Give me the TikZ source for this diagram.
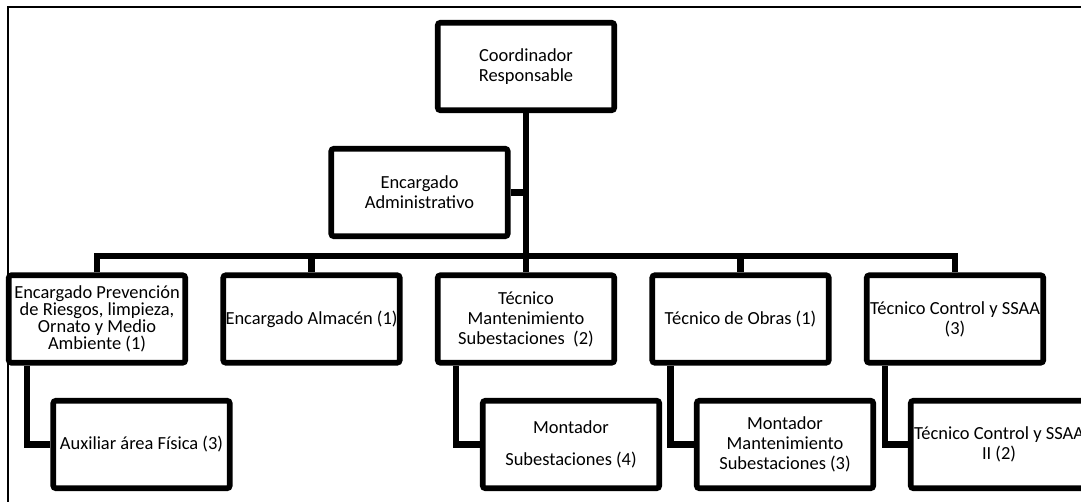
\documentclass[tikz,border=0pt]{standalone}
\usepackage{fontspec}
\setmainfont{Carlito}
\usetikzlibrary{positioning}

\begin{document}
\begin{tikzpicture}[x=0.02cm, y=-0.02cm,
  box/.style={draw=black,line width=0.114cm,rounded corners=1.5pt,fill=white,minimum width=3.53cm,minimum height=1.75cm,inner sep=0pt,align=center,font=\fontsize{10.5}{11.4}\selectfont},
  link/.style={line width=0.13cm,black}
]
\useasboundingbox (0,0) rectangle (1081,502);

% Frame
\draw[line width=0.6pt] (8,502) -- (8,7) -- (1081,7);

% Top
\node[box] (coord) at (526,66.5) {Coordinador\\Responsable};
\node[box] (adm) at (419.5,192.5) {Encargado\\Administrativo};

% Second level
\node[box,font=\fontsize{10.5}{9.7}\selectfont] (prev) at (97,319) {Encargado Prevención\\de Riesgos, limpieza,\\Ornato y Medio\\Ambiente (1)};
\node[box] (alm) at (311.5,319) {Encargado Almacén (1)};
\node[box] (mant) at (526,319) {Técnico\\Mantenimiento\\Subestaciones\ \ (2)};
\node[box] (obras) at (740.5,319) {Técnico de Obras (1)};
\node[box] (ctrl) at (955,319) {Técnico Control y SSAA\\(3)};

% Third level
\node[box] (aux) at (141.5,444.5) {Auxiliar área Física (3)};
\node[box] (mont) at (571,444.5) {Montador\\[7pt]Subestaciones (4)};
\node[box] (montm) at (785,444.5) {Montador\\Mantenimiento\\Subestaciones (3)};
\node[box] (ctrl2) at (999,444.5) {Técnico Control y SSAA\\II (2)};

\coordinate (bar) at (526,256);

\draw[link] (coord) -- (mant);
\draw[link] (adm.east) -- (adm.east -| coord.south);
\draw[link] (prev.north) |- (bar) -| (ctrl.north);
\foreach \n in {alm,obras}
  \draw[link] (\n.north |- bar) -- (\n.north);
\foreach \p/\c in {prev/aux,mant/mont,obras/montm,ctrl/ctrl2}
  \draw[link] ([xshift=-1.4cm]\p.south) |- (\c);
\end{tikzpicture}
\end{document}
